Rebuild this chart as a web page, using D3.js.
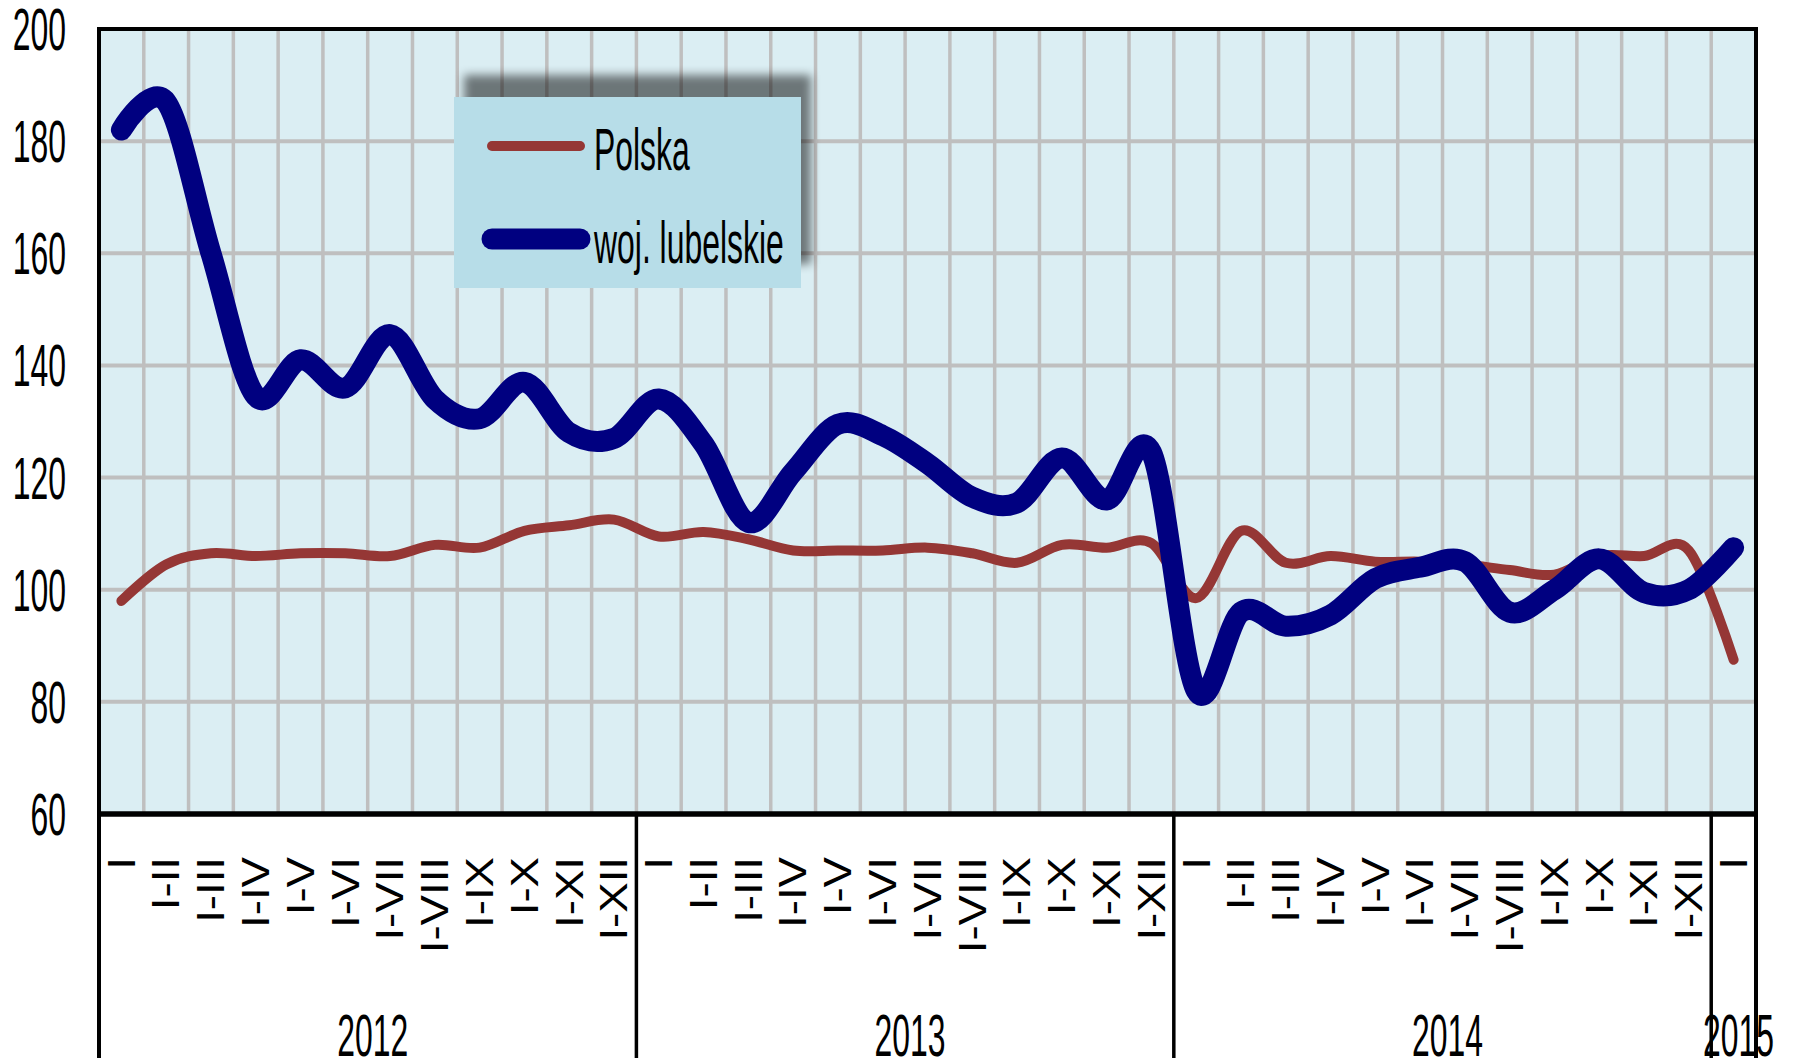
<!DOCTYPE html>
<html>
<head>
<meta charset="utf-8">
<script src="https://cdn.jsdelivr.net/npm/d3@7"></script>
<style>
  html, body { margin: 0; padding: 0; background: #fff; }
  svg { display: block; }
  text { font-family: "Liberation Sans", Arial, sans-serif; fill: #000; }
</style>
</head>
<body>
<svg id="chart" width="1799" height="1062"></svg>
<script>
// data
const yearLabels = ['2012', '2013', '2014', '2015'];
const monthsInYear = [12, 12, 12, 1];
const periodLabels = ['I', 'I-II', 'I-III', 'I-IV', 'I-V', 'I-VI', 'I-VII', 'I-VIII', 'I-IX', 'I-X', 'I-XI', 'I-XII'];
const yTicks = [60, 80, 100, 120, 140, 160, 180, 200];
const polska = [
  98, 104.5, 106.5, 106, 106.5, 106.5, 106, 108, 107.5, 110.5, 111.5, 112.5,
  109.5, 110.3, 109, 107, 107, 107, 107.5, 106.5, 104.8, 108, 107.5, 108.3,
  98.5, 110.5, 104.8, 106, 105, 105, 104.5, 103.5, 102.7, 106, 106, 107,
  87.5
];
const lubelskie = [
  182, 187, 160, 134.5, 141, 136, 145.5, 134, 130.5, 137, 128, 127,
  134, 126, 112, 121, 129.5, 127.5, 122.5, 116.5, 115.5, 123.5, 116, 124.5,
  82, 96, 93.5, 95.5, 102, 104, 105, 96, 100, 105.5, 99.5, 100,
  107.5
];
const seriesNames = ['Polska', 'woj. lubelskie'];

// categories: year + cumulative period
const categories = yearLabels.flatMap((yr, i) =>
  periodLabels.slice(0, monthsInYear[i]).map(p => ({ year: yr, label: p, key: `${yr} ${p}` })));

const plotLeft = 99, plotRight = 1756, plotTop = 29, plotBottom = 814, labelBottom = 1058;
const TEXT_SCALE = 'scale(0.84,1.57)';

const svg = d3.select('#chart');

const x = d3.scaleBand()
  .domain(categories.map(d => d.key))
  .range([plotLeft, plotRight])
  .padding(0);
const y = d3.scaleLinear().domain([60, 200]).range([plotBottom, plotTop]);
const bw = x.bandwidth();

// plot area
svg.append('rect')
  .attr('x', plotLeft).attr('y', plotTop)
  .attr('width', plotRight - plotLeft).attr('height', plotBottom - plotTop)
  .attr('fill', '#DBEEF3');

// horizontal grid
svg.append('g').selectAll('line')
  .data(yTicks.filter(v => v > 60 && v < 200))
  .join('line')
  .attr('x1', plotLeft).attr('x2', plotRight)
  .attr('y1', d => y(d)).attr('y2', d => y(d))
  .attr('stroke', '#BFBFBF').attr('stroke-width', 4);

// vertical grid at category boundaries
svg.append('g').selectAll('line')
  .data(categories.slice(1))
  .join('line')
  .attr('x1', d => x(d.key)).attr('x2', d => x(d.key))
  .attr('y1', plotTop).attr('y2', plotBottom)
  .attr('stroke', '#BFBFBF').attr('stroke-width', 3.5);

// series
const line = d3.line()
  .x((d, i) => x(categories[i].key) + bw / 2)
  .y(d => y(d))
  .curve(d3.curveCardinal.tension(0));

svg.append('path')
  .attr('d', line(polska))
  .attr('fill', 'none')
  .attr('stroke', '#953735')
  .attr('stroke-width', 10)
  .attr('stroke-linejoin', 'round')
  .attr('stroke-linecap', 'round');

svg.append('path')
  .attr('d', line(lubelskie))
  .attr('fill', 'none')
  .attr('stroke', '#000080')
  .attr('stroke-width', 21)
  .attr('stroke-linejoin', 'round')
  .attr('stroke-linecap', 'round');

// borders
svg.append('line')
  .attr('x1', plotLeft - 2).attr('x2', plotRight + 2).attr('y1', plotTop).attr('y2', plotTop)
  .attr('stroke', '#000').attr('stroke-width', 4);
svg.append('line')
  .attr('x1', plotLeft).attr('x2', plotLeft).attr('y1', plotTop - 2).attr('y2', labelBottom)
  .attr('stroke', '#000').attr('stroke-width', 4);
svg.append('line')
  .attr('x1', plotRight).attr('x2', plotRight).attr('y1', plotTop - 2).attr('y2', labelBottom)
  .attr('stroke', '#000').attr('stroke-width', 4);
svg.append('line')
  .attr('x1', plotLeft - 2).attr('x2', plotRight + 2).attr('y1', plotBottom).attr('y2', plotBottom)
  .attr('stroke', '#000').attr('stroke-width', 5.5);

// year dividers
const yearStarts = yearLabels.map(yr => categories.find(c => c.year === yr));
svg.append('g').selectAll('line')
  .data(yearStarts.slice(1))
  .join('line')
  .attr('x1', d => x(d.key)).attr('x2', d => x(d.key))
  .attr('y1', plotBottom).attr('y2', labelBottom)
  .attr('stroke', '#000').attr('stroke-width', 3.5);

// y labels
svg.append('g').selectAll('text')
  .data(yTicks)
  .join('text')
  .attr('transform', d => `translate(66,${y(d) + 21}) ${TEXT_SCALE}`)
  .attr('text-anchor', 'end')
  .attr('font-size', 38)
  .text(d => d);

// period labels (rotated)
svg.append('g').selectAll('text')
  .data(categories)
  .join('text')
  .attr('transform', d => `translate(${x(d.key) + bw / 2},857) scale(1,1.2) rotate(-90)`)
  .attr('text-anchor', 'end')
  .attr('dy', '0.35em')
  .attr('font-size', 38)
  .text(d => d.label);

// year labels
svg.append('g').selectAll('text')
  .data(yearLabels)
  .join('text')
  .attr('transform', (d, i) => {
    const cx = x(yearStarts[i].key) + monthsInYear[i] * bw / 2 + 5;
    return `translate(${cx},${labelBottom - 2}) ${TEXT_SCALE}`;
  })
  .attr('text-anchor', 'middle')
  .attr('font-size', 38)
  .text(d => d);

// legend
const defs = svg.append('defs');
const f = defs.append('filter').attr('id', 'shadow')
  .attr('x', '-20%').attr('y', '-30%').attr('width', '140%').attr('height', '160%');
f.append('feGaussianBlur').attr('stdDeviation', 5);

const lg = { x: 454, y: 97, w: 347, h: 191 };
svg.append('rect')
  .attr('x', lg.x + 10).attr('y', lg.y - 22)
  .attr('width', lg.w).attr('height', lg.h - 2)
  .attr('fill', '#000').attr('opacity', 0.5)
  .attr('filter', 'url(#shadow)');
svg.append('rect')
  .attr('x', lg.x).attr('y', lg.y)
  .attr('width', lg.w).attr('height', lg.h)
  .attr('fill', '#B7DDE8');

const legendItems = [
  { name: seriesNames[0], color: '#953735', width: 10, y: 146 },
  { name: seriesNames[1], color: '#000080', width: 21, y: 239 }
];
const li = svg.append('g').selectAll('g')
  .data(legendItems)
  .join('g');
li.append('line')
  .attr('x1', 492).attr('x2', 580)
  .attr('y1', d => d.y).attr('y2', d => d.y)
  .attr('stroke', d => d.color)
  .attr('stroke-width', d => d.width)
  .attr('stroke-linecap', 'round');
li.append('text')
  .attr('transform', d => `translate(594,${d.y + 24}) ${TEXT_SCALE}`)
  .attr('font-size', 38)
  .text(d => d.name);
</script>
</body>
</html>
